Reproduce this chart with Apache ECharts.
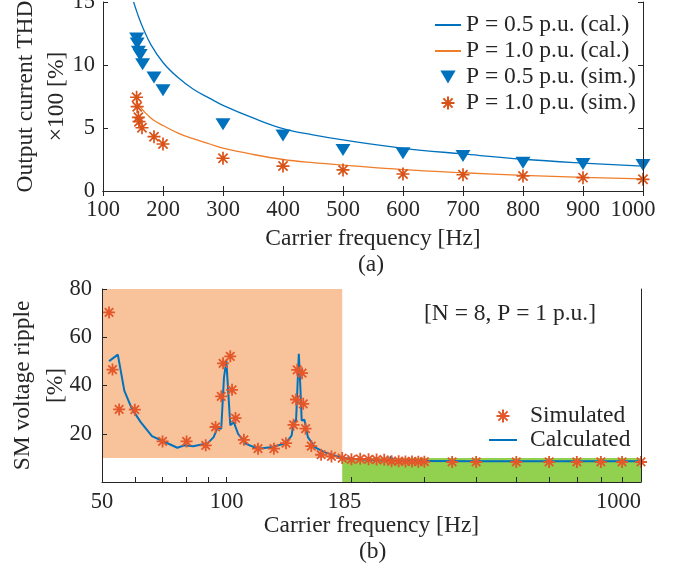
<!DOCTYPE html>
<html>
<head>
<meta charset="utf-8">
<script src="https://cdn.jsdelivr.net/npm/echarts@6/dist/echarts.min.js"></script>
<style>
  html, body { margin: 0; padding: 0; background: #ffffff; }
  #chart { width: 678px; height: 573px; }
</style>
</head>
<body>
<div id="chart"></div>
<script>
// ---- (a) Output current THD versus carrier frequency ----
const thdFreqTicks = [100, 200, 300, 400, 500, 600, 700, 800, 900, 1000];
const thdTicks = [0, 5, 10, 15];

const calFreq05 = [151, 158, 167, 180, 200, 225, 250, 278, 300, 350, 400, 450, 500, 600, 700, 800, 900, 1000];
const calThd05  = [15.0, 14.0, 12.9, 11.6, 10.2, 9.0, 8.1, 7.35, 6.8, 5.8, 4.95, 4.45, 4.05, 3.39, 2.94, 2.52, 2.22, 1.98];

const calFreq10 = [156, 165, 175, 185, 200, 225, 250, 278, 300, 350, 400, 450, 500, 600, 700, 800, 900, 1000];
const calThd10  = [7.1, 6.5, 6.0, 5.6, 5.2, 4.6, 4.15, 3.73, 3.4, 2.9, 2.5, 2.25, 2.06, 1.7, 1.45, 1.24, 1.08, 0.96];

const simFreq05 = [156, 157, 159, 162, 166, 185, 200, 300, 400, 500, 600, 700, 800, 900, 1000];
const simThd05  = [12.1, 11.7, 11.05, 10.8, 10.05, 9.0, 8.0, 5.3, 4.4, 3.25, 2.99, 2.78, 2.25, 2.14, 2.06];

const simFreq10 = [156, 157, 159, 160, 165, 185, 200, 300, 400, 500, 600, 700, 800, 900, 1000];
const simThd10  = [7.44, 6.69, 5.85, 5.5, 5.02, 4.31, 3.73, 2.6, 1.98, 1.67, 1.35, 1.29, 1.19, 1.06, 0.93];

// ---- (b) SM voltage ripple versus carrier frequency ----
const rippleFreqLabels = [50, 100, 185, 1000];
const rippleFreqTicks = [50, 60, 70, 80, 90, 100, 200, 300, 400, 500, 600, 700, 800, 900, 1000];
const rippleTicks = [20, 40, 60, 80];

const rippleSimFreq = [52, 53, 55, 60, 70, 80, 89, 94, 97, 98, 102, 103, 105, 110, 119, 130, 139, 145, 147, 148, 152, 153, 155, 160, 169, 179, 190,
                       200, 210, 220, 230, 240, 250, 260, 270, 280, 290, 300, 350, 400, 500, 600, 700, 800, 900, 1000];
const rippleSim     = [70.3, 46.6, 30.1, 30.0, 16.8, 16.8, 15.2, 22.8, 35.5, 49.2, 52.1, 38.2, 26.5, 17.5, 13.8, 13.8, 16.1, 23.7, 34.2, 46.5, 45.1, 32.4, 22.1, 14.9, 11.3, 10.6, 9.9,
                       9.4, 9.6, 9.4, 9.3, 9.2, 8.6, 8.6, 8.5, 8.5, 8.4, 8.4, 8.3, 8.3, 8.3, 8.3, 8.3, 8.3, 8.3, 8.3];

const rippleCalFreq = [52, 54.6, 56.6, 59, 62, 66, 70, 76, 79, 83, 90, 93, 95, 97, 98.5, 99.8, 102, 104, 106.5, 111, 119, 129, 139, 143.5, 145, 147, 149.3, 150.7, 151.7, 154, 157, 163, 172, 189,
                       200, 230, 247, 249, 252, 300, 400, 500, 600, 700, 800, 900, 1000];
const rippleCal     = [50.1, 52.8, 37.9, 30.4, 24.8, 19.0, 17.0, 14.2, 15.2, 14.8, 16.1, 18.6, 22.5, 22.1, 43.4, 50.1, 23.5, 24.8, 20.0, 15.9, 13.8, 14.5, 16.1, 19.3, 25.2, 25.2, 53.1, 37.9, 25.5, 25.8, 18.6, 14.5, 12.4, 10.1,
                       9.6, 9.0, 8.8, 10.6, 8.7, 8.7, 8.6, 8.6, 8.6, 8.6, 8.6, 8.6, 8.6];

// boundary between the two shaded operating zones
const zoneSplitFreq = 190;
const zoneLevel = 10;

const pairs = (xs, ys) => xs.map((x, i) => [x, ys[i]]);

const FONT = "'Liberation Serif', 'Times New Roman', serif";
const TICK_SIZE = 22.5;
const TEXT_SIZE = 23.5;
const INK = '#262626';
const BLUE = '#0072BD';
const ORANGE_LINE = '#EF7D2A';
const ORANGE_MARK = '#D95319';
const STAR = 'path://M0,-10L0,10M-10,0L10,0M-7.07,-7.07L7.07,7.07M-7.07,7.07L7.07,-7.07';
const TRI_DOWN = 'path://M0,0L20,0L10,17Z';

function axisBase(extra) {
  return Object.assign({
    z: 10,
    nameMoveOverlap: false,
    axisLine: { show: true, lineStyle: { color: INK, width: 1 } },
    axisTick: { show: true, inside: true, length: 5, lineStyle: { color: INK, width: 1 } },
    axisLabel: { color: INK, fontFamily: FONT, fontSize: TICK_SIZE },
    splitLine: { show: false },
    minorTick: { show: false }
  }, extra);
}

const chart = echarts.init(document.getElementById('chart'), null, { renderer: 'canvas' });

const option = {
  backgroundColor: '#ffffff',
  animation: false,
  textStyle: { fontFamily: FONT, color: INK },
  grid: [
    { left: 103, right: 35, top: 2, height: 189, outerBoundsMode: 'none' },
    { left: 102, right: 37, top: 289, height: 193, outerBoundsMode: 'none' }
  ],
  xAxis: [
    axisBase({
      gridIndex: 0, type: 'value', min: thdFreqTicks[0], max: thdFreqTicks[thdFreqTicks.length - 1], interval: 100,
      name: 'Carrier frequency [Hz]', nameLocation: 'middle', nameGap: 36,
      nameTextStyle: { fontFamily: FONT, fontSize: TEXT_SIZE, color: INK },
      axisLabel: {
        color: INK, fontFamily: FONT, fontSize: TICK_SIZE, margin: 8,
        formatter: v => v === 1000 ? '{e|1000}' : String(v),
        rich: { e: { fontFamily: FONT, fontSize: TICK_SIZE, color: INK, padding: [0, 20, 0, 0] } }
      }
    }),
    axisBase({
      gridIndex: 0, type: 'value', position: 'top', min: 100, max: 1000, interval: 100,
      axisLabel: { show: false }
    }),
    axisBase({
      gridIndex: 1, type: 'log', logBase: 10, min: 50, max: 1000,
      name: 'Carrier frequency [Hz]', nameLocation: 'middle', nameGap: 32,
      nameTextStyle: { fontFamily: FONT, fontSize: TEXT_SIZE, color: INK },
      axisTick: { show: true, inside: true, length: 5, lineStyle: { color: INK }, customValues: rippleFreqTicks },
      axisLabel: {
        color: INK, fontFamily: FONT, fontSize: TICK_SIZE, margin: 9,
        customValues: rippleFreqLabels,
        alignMaxLabel: 'right',
        formatter: v => (Math.abs(v - 185) < 0.5 ? '{s|185}' : String(Math.round(v))),
        rich: { s: { fontFamily: FONT, fontSize: TICK_SIZE, color: INK, padding: [0, 0, 0, 14] } }
      }
    })
  ],
  yAxis: [
    axisBase({
      gridIndex: 0, type: 'value', min: 0, max: 15, interval: 5,
      name: 'Output current THD\n×100 [%]', nameLocation: 'middle', nameRotate: 90, nameGap: 31,
      nameTextStyle: { fontFamily: FONT, fontSize: TEXT_SIZE, color: INK, lineHeight: 31 },
      axisLabel: { color: INK, fontFamily: FONT, fontSize: TICK_SIZE, margin: 8 }
    }),
    axisBase({
      gridIndex: 0, type: 'value', position: 'right', min: 0, max: 15, interval: 5,
      axisLabel: { show: false }
    }),
    axisBase({
      gridIndex: 1, type: 'value', min: 0, max: 80, interval: 20,
      name: 'SM voltage ripple\n[%]', nameLocation: 'middle', nameRotate: 90, nameGap: 30,
      nameTextStyle: { fontFamily: FONT, fontSize: TEXT_SIZE, color: INK, lineHeight: 33 },
      axisLabel: { color: INK, fontFamily: FONT, fontSize: TICK_SIZE, margin: 10, formatter: v => (v === 0 ? '' : String(v)) }
    }),
    axisBase({
      gridIndex: 1, type: 'value', position: 'right', min: 0, max: 80, interval: 20,
      axisTick: { show: false }, axisLabel: { show: false }
    })
  ],
  legend: [
    {
      data: [
        { name: 'P = 0.5 p.u. (cal.)', icon: 'path://M0,0L26,0L26,2L0,2Z' },
        { name: 'P = 1.0 p.u. (cal.)', icon: 'path://M0,0L26,0L26,2L0,2Z' },
        'P = 0.5 p.u. (sim.)',
        'P = 1.0 p.u. (sim.)'
      ],
      orient: 'vertical', left: 430, top: 8, itemGap: 2, itemWidth: 26, itemHeight: 13,
      textStyle: { fontFamily: FONT, fontSize: TEXT_SIZE, color: INK, padding: [0, 0, 0, 0] },
      backgroundColor: 'transparent', borderWidth: 0, selectedMode: false
    },
    {
      data: ['Simulated', { name: 'Calculated', icon: 'path://M0,0L28,0L28,2L0,2Z' }],
      orient: 'vertical', left: 484, top: 399, itemGap: 0, itemWidth: 28, itemHeight: 13,
      textStyle: { fontFamily: FONT, fontSize: TEXT_SIZE, color: INK, padding: [0, 0, 0, 8] },
      backgroundColor: 'transparent', borderWidth: 0, selectedMode: false
    }
  ],
  series: [
    {
      name: 'P = 0.5 p.u. (cal.)', type: 'line', xAxisIndex: 0, yAxisIndex: 0,
      data: pairs(calFreq05, calThd05), showSymbol: false, symbol: 'none', smooth: 0.4,
      lineStyle: { color: BLUE, width: 1.3 }, itemStyle: { color: BLUE }, z: 3
    },
    {
      name: 'P = 1.0 p.u. (cal.)', type: 'line', xAxisIndex: 0, yAxisIndex: 0,
      data: pairs(calFreq10, calThd10), showSymbol: false, symbol: 'none', smooth: 0.4,
      lineStyle: { color: ORANGE_LINE, width: 1.3 }, itemStyle: { color: ORANGE_LINE }, z: 3
    },
    {
      name: 'P = 0.5 p.u. (sim.)', type: 'scatter', xAxisIndex: 0, yAxisIndex: 0,
      data: pairs(simFreq05, simThd05), symbol: TRI_DOWN, symbolSize: [15, 12],
      itemStyle: { color: BLUE, opacity: 1 }, z: 4
    },
    {
      name: 'P = 1.0 p.u. (sim.)', type: 'scatter', xAxisIndex: 0, yAxisIndex: 0,
      data: pairs(simFreq10, simThd10), symbol: STAR, symbolSize: 13,
      itemStyle: { color: 'rgba(0,0,0,0)', borderColor: ORANGE_MARK, borderWidth: 1.7, opacity: 1 }, z: 4
    },
    {
      name: 'Calculated', type: 'line', xAxisIndex: 2, yAxisIndex: 2,
      data: pairs(rippleCalFreq, rippleCal), showSymbol: false, symbol: 'none',
      lineStyle: { color: BLUE, width: 2 }, itemStyle: { color: BLUE }, z: 3,
      markArea: {
        silent: true,
        data: [
          [{ coord: [50, zoneLevel], itemStyle: { color: '#F8C39B' } }, { coord: [zoneSplitFreq, 80] }],
          [{ coord: [zoneSplitFreq, 0], itemStyle: { color: '#92D050' } }, { coord: [1000, zoneLevel] }]
        ]
      }
    },
    {
      name: 'Simulated', type: 'scatter', xAxisIndex: 2, yAxisIndex: 2,
      data: pairs(rippleSimFreq, rippleSim), symbol: STAR, symbolSize: 12,
      itemStyle: { color: 'rgba(0,0,0,0)', borderColor: '#E4572A', borderWidth: 1.8, opacity: 1 }, z: 4
    }
  ],
  graphic: [
    { type: 'text', left: 358, top: 253, style: { text: '(a)', font: TEXT_SIZE + "px 'Liberation Serif', serif", fill: INK } },
    { type: 'text', left: 359, top: 540, style: { text: '(b)', font: TEXT_SIZE + "px 'Liberation Serif', serif", fill: INK } },
    { type: 'text', left: 424, top: 302, style: { text: '[N = 8, P = 1 p.u.]', font: TEXT_SIZE + "px 'Liberation Serif', serif", fill: INK } }
  ]
};

chart.setOption(option);
</script>
</body>
</html>
